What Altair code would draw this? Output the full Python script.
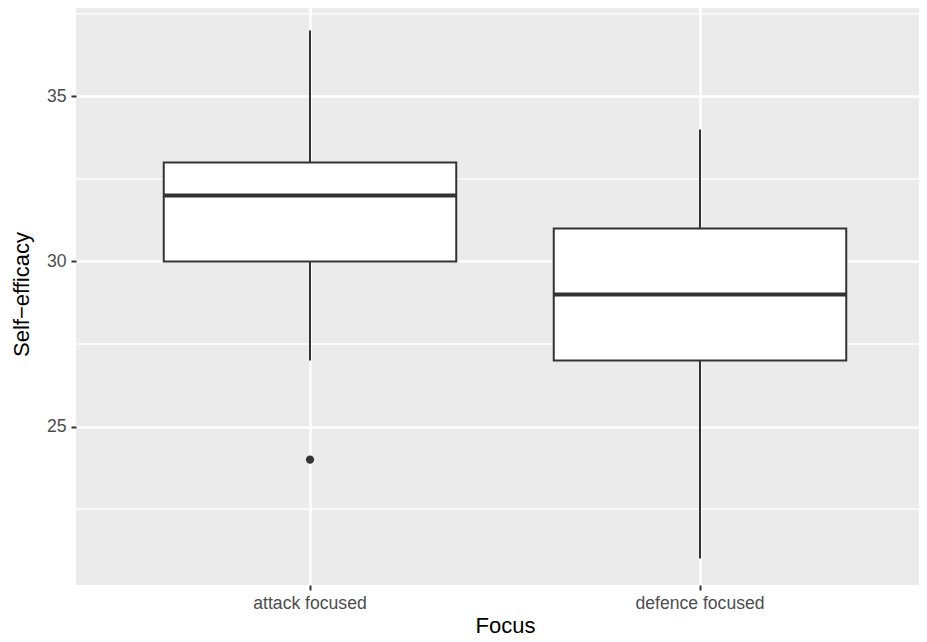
import altair as alt
import pandas as pd

# ---- data ----
categories = ["attack focused", "defence focused"]
lower_whisker = [27, 21]
q1 = [30, 27]
median = [32, 29]
q3 = [33, 31]
upper_whisker = [37, 34]

outlier_cat = ["attack focused"]
outlier_val = [24]

y_major = [25, 30, 35]
y_minor = [22.5, 27.5, 32.5, 37.5]
y_domain = [20.2, 37.8]

x_title = "Focus"
y_title = "Self\u2212efficacy"

box_df = pd.DataFrame({
    "cat": categories,
    "lower": lower_whisker,
    "q1": q1,
    "median": median,
    "q3": q3,
    "upper": upper_whisker,
})
out_df = pd.DataFrame({"cat": outlier_cat, "val": outlier_val})
minor_df = pd.DataFrame({"v": y_minor})

FONT = "Liberation Sans"
DARK = "#333333"

x_scale = alt.Scale(domain=categories, paddingInner=0, paddingOuter=0.1)
y_scale = alt.Scale(domain=y_domain, nice=False, zero=False)

x_axis = alt.Axis(
    bandPosition=0.5,
    labelFontSize=17.6, labelColor="#4D4D4D", labelFont=FONT,
    labelBaseline="alphabetic", labelPadding=18, labelAngle=0,
    tickColor=DARK, tickSize=5, tickWidth=2,
    domain=False, grid=True, gridColor="white", gridWidth=2.5,
    titleFontSize=22, titleColor="black", titleFont=FONT, titleFontWeight="normal",
    titleY=47, titleBaseline="alphabetic",
)
y_axis = alt.Axis(
    values=y_major,
    labelFontSize=17.6, labelColor="#4D4D4D", labelFont=FONT,
    labelPadding=5, labelBaseline="middle",
    tickColor=DARK, tickSize=5, tickWidth=2,
    domain=False, grid=True, gridColor="white", gridWidth=2.5,
    titleFontSize=22, titleColor="black", titleFont=FONT, titleFontWeight="normal",
    titleX=-48, titleY=290, titleAngle=270, titleAlign="center",
    titleBaseline="alphabetic",
)

minor = alt.Chart(minor_df).mark_rule(color="white", strokeWidth=1.3).encode(
    y=alt.Y("v:Q", scale=y_scale, axis=y_axis, title=y_title),
)

whisker = alt.Chart(box_df).mark_rule(color=DARK, strokeWidth=2).encode(
    x=alt.X("cat:N", scale=x_scale, axis=x_axis, title=x_title, sort=categories),
    y=alt.Y("lower:Q", scale=y_scale, axis=y_axis, title=y_title),
    y2="upper:Q",
)

box = alt.Chart(box_df).mark_bar(
    width=alt.RelativeBandSize(0.75), fill="white", stroke=DARK, strokeWidth=2
).encode(
    x=alt.X("cat:N", scale=x_scale, axis=x_axis, title=x_title, sort=categories),
    y=alt.Y("q1:Q", scale=y_scale, axis=y_axis, title=y_title),
    y2="q3:Q",
)

med = alt.Chart(box_df).mark_bar(
    width=alt.RelativeBandSize(0.75), fill=DARK, stroke=DARK, strokeWidth=4
).encode(
    x=alt.X("cat:N", scale=x_scale, axis=x_axis, title=x_title, sort=categories),
    y=alt.Y("median:Q", scale=y_scale, axis=y_axis, title=y_title),
    y2="median:Q",
)

outl = alt.Chart(out_df).mark_circle(color=DARK, opacity=1, size=68).encode(
    x=alt.X("cat:N", scale=x_scale, axis=x_axis, title=x_title, sort=categories),
    y=alt.Y("val:Q", scale=y_scale, axis=y_axis, title=y_title),
)

chart = alt.layer(minor, whisker, box, med, outl).properties(
    width=858,
    height=581,
    autosize=alt.AutoSizeParams(type="none"),
    padding={"left": 68, "top": -4, "right": -15, "bottom": 49},
).configure(
    background="white",
    view=alt.ViewConfig(fill="#EBEBEB", stroke="transparent", strokeWidth=0),
)

chart.save("out.html", embed_options={"renderer": "svg", "actions": False})
